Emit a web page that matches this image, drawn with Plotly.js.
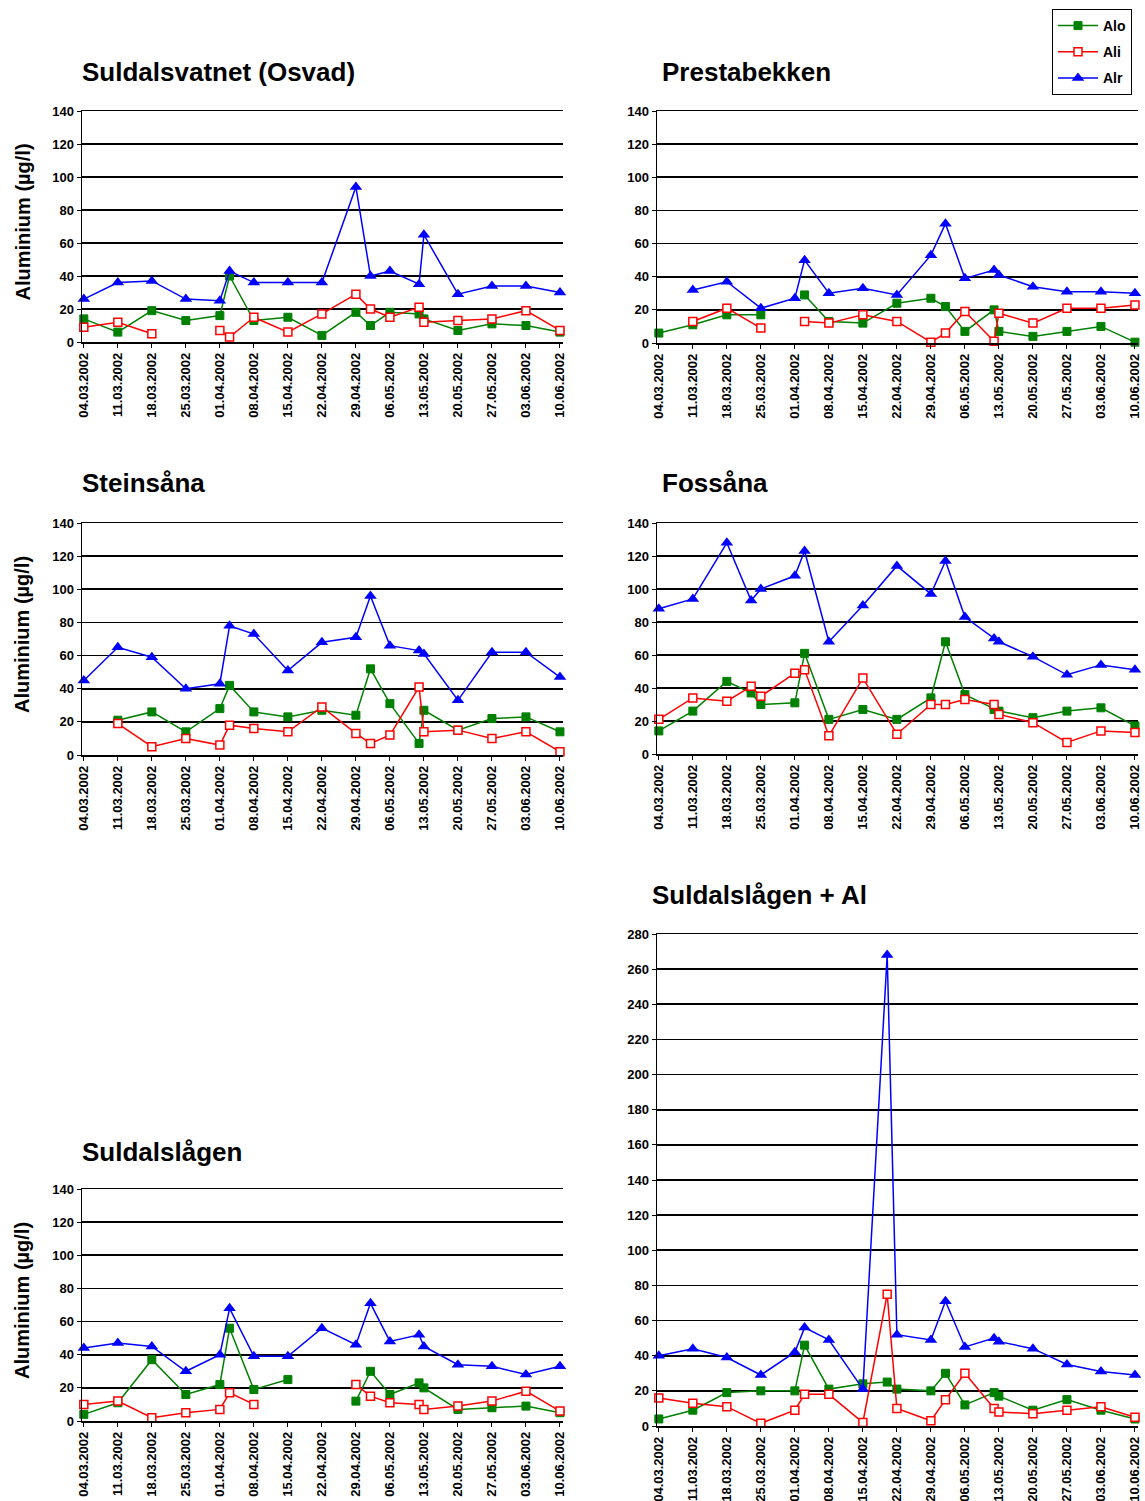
<!DOCTYPE html>
<html>
<head>
<meta charset="utf-8">
<script src="https://cdn.plot.ly/plotly-3.0.1.min.js"></script>
<style>
html,body{margin:0;padding:0;background:#fff;}
#chart{width:1145px;height:1501px;}
</style>
</head>
<body>
<div id="chart"></div>
<script>
// ---- Data ----
const weekTicks = ['2002-03-04','2002-03-11','2002-03-18','2002-03-25','2002-04-01','2002-04-08','2002-04-15',
  '2002-04-22','2002-04-29','2002-05-06','2002-05-13','2002-05-20','2002-05-27','2002-06-03','2002-06-10'];

const datesMain = ['2002-03-04','2002-03-11','2002-03-18','2002-03-25','2002-04-01','2002-04-03','2002-04-08',
  '2002-04-15','2002-04-22','2002-04-29','2002-05-02','2002-05-06','2002-05-12','2002-05-13','2002-05-20',
  '2002-05-27','2002-06-03','2002-06-10'];
const datesFossana = ['2002-03-04','2002-03-11','2002-03-18','2002-03-23','2002-03-25','2002-04-01','2002-04-03',
  '2002-04-08','2002-04-15','2002-04-22','2002-04-29','2002-05-02','2002-05-06','2002-05-12','2002-05-13',
  '2002-05-20','2002-05-27','2002-06-03','2002-06-10'];
const datesLagenAl = ['2002-03-04','2002-03-11','2002-03-18','2002-03-25','2002-04-01','2002-04-03','2002-04-08',
  '2002-04-15','2002-04-20','2002-04-22','2002-04-29','2002-05-02','2002-05-06','2002-05-12','2002-05-13',
  '2002-05-20','2002-05-27','2002-06-03','2002-06-10'];

// Suldalsvatnet (Osvad)
const aloSuldalsvatnet = [14,6,19,13,16,40,13,15,4,18,10,18,17,14,7,11,10,6];
const aliSuldalsvatnet = [9,12,5,null,7,3,15,6,17,29,20,15,21,12,13,14,19,7];
const alrSuldalsvatnet = [26,36,37,26,25,43,36,36,36,94,40,43,35,65,29,34,34,30];

// Prestabekken
const aloPrestabekken = [6,11,17,17,null,29,13,12,24,27,22,7,20,7,4,7,10,0.5];
const aliPrestabekken = [null,13,21,9,null,13,12,17,13,0.5,6,19,1,18,12,21,21,23];
const alrPrestabekken = [null,32,37,21,27,50,30,33,29,53,72,39,44,41,34,31,31,30];

// Steinsåna
const aloSteinsana = [null,21,26,14,28,42,26,23,27,24,52,31,7,27,15,22,23,14];
const aliSteinsana = [null,19,5,10,6,18,16,14,29,13,7,12,41,14,15,10,14,2];
const alrSteinsana = [45,65,59,40,43,78,73,51,68,71,96,66,63,61,33,62,62,47];

// Fossåna
const aloFossana = [14,26,44,37,30,31,61,21,27,21,34,68,36,27,26,22,26,28,17];
const aliFossana = [21,34,32,41,35,49,51,11,46,12,30,30,33,30,24,19,7,14,13];
const alrFossana = [88,94,128,93,100,108,123,68,90,114,97,117,83,70,68,59,48,54,51];

// Suldalslågen
const aloLagen = [4,11,37,16,22,56,19,25,null,12,30,16,23,20,7,8,9,5];
const aliLagen = [10,12,2,5,7,17,10,null,null,22,15,11,10,7,9,12,18,6];
const alrLagen = [44,47,45,30,40,68,39,39,56,46,71,48,52,45,34,33,28,33];

// Suldalslågen + Al
const aloLagenAl = [4,9,19,20,20,46,21,24,25,21,20,30,12,19,17,9,15,9,4];
const aliLagenAl = [16,13,11,1.5,9,18,18,2,75,10,3,15,30,10,8,7,9,11,5];
const alrLagenAl = [40,44,39,29,42,56,49,21,268,52,49,71,45,50,48,44,35,31,29];

const seriesNames = ['Alo','Ali','Alr'];
const panelTitles = ['Suldalsvatnet (Osvad)','Prestabekken','Steinsåna','Fossåna','Suldalslågen','Suldalslågen + Al'];
const yTitle = 'Aluminium (µg/l)';

// ---- Layout helpers ----
const W = 1145, H = 1501;
const FONT = 'Arial, "Liberation Sans", sans-serif';
const px = v => v / W;
const py = v => 1 - v / H;

const panels = [
  {dates: datesMain,    alo: aloSuldalsvatnet, ali: aliSuldalsvatnet, alr: alrSuldalsvatnet, x0: 82,  x1: 563,  y0: 111, y1: 342,  ymax: 140, tx: 80,  ty: 72,  ytitle: true},
  {dates: datesMain,    alo: aloPrestabekken,  ali: aliPrestabekken,  alr: alrPrestabekken,  x0: 657, x1: 1138, y0: 111, y1: 343,  ymax: 140, tx: 660, ty: 72,  ytitle: false},
  {dates: datesMain,    alo: aloSteinsana,     ali: aliSteinsana,     alr: alrSteinsana,     x0: 82,  x1: 563,  y0: 523, y1: 755,  ymax: 140, tx: 80,  ty: 483, ytitle: true},
  {dates: datesFossana, alo: aloFossana,       ali: aliFossana,       alr: alrFossana,       x0: 657, x1: 1138, y0: 523, y1: 754,  ymax: 140, tx: 660, ty: 483, ytitle: false},
  {dates: datesMain,    alo: aloLagen,         ali: aliLagen,         alr: alrLagen,         x0: 82,  x1: 563,  y0: 1189, y1: 1421, ymax: 140, tx: 80,  ty: 1152, ytitle: true},
  {dates: datesLagenAl, alo: aloLagenAl,       ali: aliLagenAl,       alr: alrLagenAl,       x0: 657, x1: 1138, y0: 934, y1: 1426, ymax: 280, tx: 650, ty: 895, ytitle: false}
];

const styles = {
  Alo: {line: {color: '#008000', width: 1.5}, marker: {symbol: 'square', size: 8, color: '#008000', line: {color: '#008000', width: 1}}},
  Ali: {line: {color: '#FF0000', width: 1.5}, marker: {symbol: 'square', size: 8, color: '#FFFFFF', line: {color: '#FF0000', width: 1.5}}},
  Alr: {line: {color: '#0000FF', width: 1.5}, marker: {symbol: 'triangle-up', size: 11, color: '#0000FF', line: {color: '#0000FF', width: 0}}}
};

const data = [];
const layout = {
  width: W, height: H,
  margin: {l: 0, r: 0, t: 0, b: 0},
  paper_bgcolor: '#fff', plot_bgcolor: '#fff',
  font: {family: FONT, color: '#000'},
  showlegend: true,
  legend: {
    x: px(1052), y: py(9), xanchor: 'left', yanchor: 'top',
    bordercolor: '#000', borderwidth: 1, bgcolor: '#fff',
    font: {family: FONT, size: 14, color: '#000', weight: 'bold'},
    tracegroupgap: 5, itemwidth: 40
  },
  annotations: []
};

panels.forEach((p, i) => {
  const n = i + 1;
  const xa = 'x' + (n === 1 ? '' : n), ya = 'y' + (n === 1 ? '' : n);
  const keys = {Alo: p.alo, Ali: p.ali, Alr: p.alr};
  seriesNames.forEach(s => {
    data.push({
      type: 'scatter', mode: 'lines+markers',
      x: p.dates, y: keys[s], name: s,
      xaxis: xa, yaxis: ya,
      legendgroup: s, showlegend: i === 0,
      connectgaps: false,
      line: styles[s].line, marker: styles[s].marker,
      cliponaxis: false
    });
  });
  layout['xaxis' + (n === 1 ? '' : n)] = {
    domain: [px(p.x0), px(p.x1)], anchor: ya,
    type: 'date',
    range: ['2002-03-03 15:00', '2002-06-10 15:00'],
    tickmode: 'array', tickvals: weekTicks, tickformat: '%d.%m.%Y',
    tickangle: -90, ticks: 'outside', ticklen: 4, tickcolor: '#000', tickwidth: 1,
    tickfont: {family: FONT, size: 13, color: '#000', weight: 'bold'},
    showgrid: false, zeroline: false,
    showline: true, mirror: true, linecolor: '#000', linewidth: 1.5,
    fixedrange: true
  };
  layout['yaxis' + (n === 1 ? '' : n)] = {
    domain: [py(p.y1), py(p.y0)], anchor: xa,
    range: [0, p.ymax], dtick: 20, tick0: 0,
    ticks: 'outside', ticklen: 4, tickcolor: '#000', tickwidth: 1,
    tickfont: {family: FONT, size: 13, color: '#000', weight: 'bold'},
    showgrid: true, gridcolor: '#000', gridwidth: 1.6,
    zeroline: false, showline: true, linecolor: '#000', linewidth: 1.5,
    fixedrange: true
  };
  layout.annotations.push({
    text: panelTitles[i], xref: 'paper', yref: 'paper',
    x: px(p.tx), y: py(p.ty), xanchor: 'left', yanchor: 'middle',
    showarrow: false, font: {family: FONT, size: 26, color: '#000', weight: 'bold'}
  });
  if (p.ytitle) {
    layout.annotations.push({
      text: yTitle, xref: 'paper', yref: 'paper', textangle: -90,
      x: px(22), y: py((p.y0 + p.y1) / 2 - 4), xanchor: 'center', yanchor: 'middle',
      showarrow: false, font: {family: FONT, size: 20, color: '#000', weight: 'bold'}
    });
  }
});

Plotly.newPlot('chart', data, layout, {staticPlot: true, displayModeBar: false});
</script>
</body>
</html>
